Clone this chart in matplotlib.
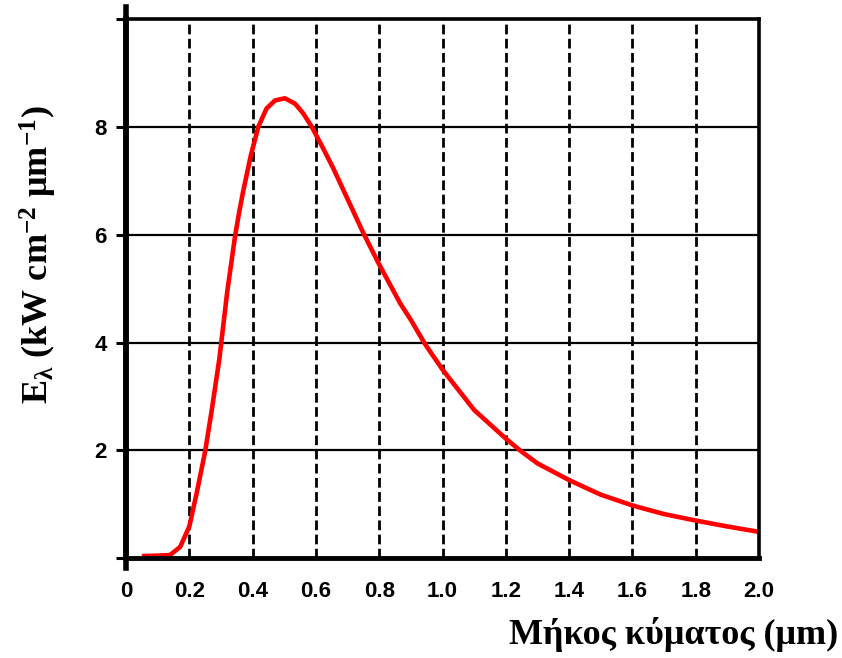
import matplotlib
matplotlib.use("Agg")
import matplotlib.pyplot as plt
from matplotlib.lines import Line2D

# Data
wavelength_um = [0.05, 0.10, 0.139, 0.171, 0.20, 0.223, 0.25, 0.271, 0.295, 0.32,
                 0.344, 0.357, 0.37, 0.394, 0.418, 0.444, 0.471, 0.502, 0.534, 0.56,
                 0.587, 0.623, 0.655, 0.697, 0.75, 0.798, 0.866, 0.90, 0.945, 1.00,
                 1.10, 1.20, 1.245, 1.30, 1.40, 1.50, 1.60, 1.70, 1.80, 1.90, 2.00]
irradiance = [0.04, 0.05, 0.06, 0.21, 0.59, 1.2, 1.98, 2.75, 3.7, 4.95,
              5.95, 6.4, 6.8, 7.46, 8.0, 8.34, 8.49, 8.53, 8.43, 8.25,
              8.0, 7.6, 7.23, 6.7, 6.03, 5.47, 4.73, 4.42, 3.97, 3.5,
              2.75, 2.22, 2.0, 1.76, 1.45, 1.18, 0.98, 0.82, 0.70, 0.59, 0.49]

x_ticks = [0, 0.2, 0.4, 0.6, 0.8, 1.0, 1.2, 1.4, 1.6, 1.8, 2.0]
x_tick_labels = ["0", "0.2", "0.4", "0.6", "0.8", "1.0", "1.2", "1.4", "1.6", "1.8", "2.0"]
y_ticks = [0, 2, 4, 6, 8, 10]
y_tick_labels = ["", "2", "4", "6", "8", ""]
x_grid = [0.2, 0.4, 0.6, 0.8, 1.0, 1.2, 1.4, 1.6, 1.8]
y_grid = [2, 4, 6, 8]

plt.rcParams['mathtext.fontset'] = 'custom'
plt.rcParams['mathtext.rm'] = 'Liberation Serif:bold'
plt.rcParams['mathtext.it'] = 'Liberation Serif:bold'
plt.rcParams['mathtext.bf'] = 'Liberation Serif:bold'

fig = plt.figure(figsize=(8.42, 6.58), dpi=100)
W, H = 842, 658
left, right, top, bottom = 126, 759, 19, 558.3
ax = fig.add_axes([left / W, (H - bottom) / H, (right - left) / W, (bottom - top) / H])

ax.set_xlim(0, 2.0)
ax.set_ylim(0, 10)

for xv in x_grid:
    ax.axvline(xv, color='black', lw=2.0, linestyle=(0, (3.5, 1.6)), zorder=1)
for yv in y_grid:
    ax.axhline(yv, color='black', lw=1.6, zorder=1)

ax.plot(wavelength_um, irradiance, color='#ff0000', lw=3.3, zorder=3,
        solid_capstyle='butt', solid_joinstyle='round')

ax.set_xticks(x_ticks)
ax.set_xticklabels(x_tick_labels, fontfamily='Liberation Sans', fontweight='bold', fontsize=16)
ax.set_yticks(y_ticks)
ax.set_yticklabels(y_tick_labels, fontfamily='Liberation Sans', fontweight='bold', fontsize=16)
ax.tick_params(axis='x', length=0, pad=16)
ax.tick_params(axis='y', length=7, width=2.2, direction='out', pad=7, color='black')

for s in ['top', 'right']:
    ax.spines[s].set_linewidth(2.6)
ax.spines['bottom'].set_linewidth(3.5)
ax.spines['left'].set_linewidth(4.0)
for s in ax.spines.values():
    s.set_color('black')
    s.set_zorder(4)

# left spine extension above and below the frame
ax.add_line(Line2D([0, 0], [-0.18, 10.22], color='black', lw=4.0, clip_on=False, zorder=5))

fig.text(838 / W, 1 - 634 / H, "Μήκος κύματος (μm)", ha='right', va='center',
         fontfamily='Liberation Serif', fontweight='bold', fontsize=26)
fig.text(38 / W, 1 - 255 / H, r"E$_{λ}$ (kW cm$^{-2}$ μm$^{-1}$)", ha='center', va='center',
         rotation=90, fontfamily='Liberation Serif', fontweight='bold', fontsize=26)

fig.savefig("out.png", dpi=100, facecolor='white')
